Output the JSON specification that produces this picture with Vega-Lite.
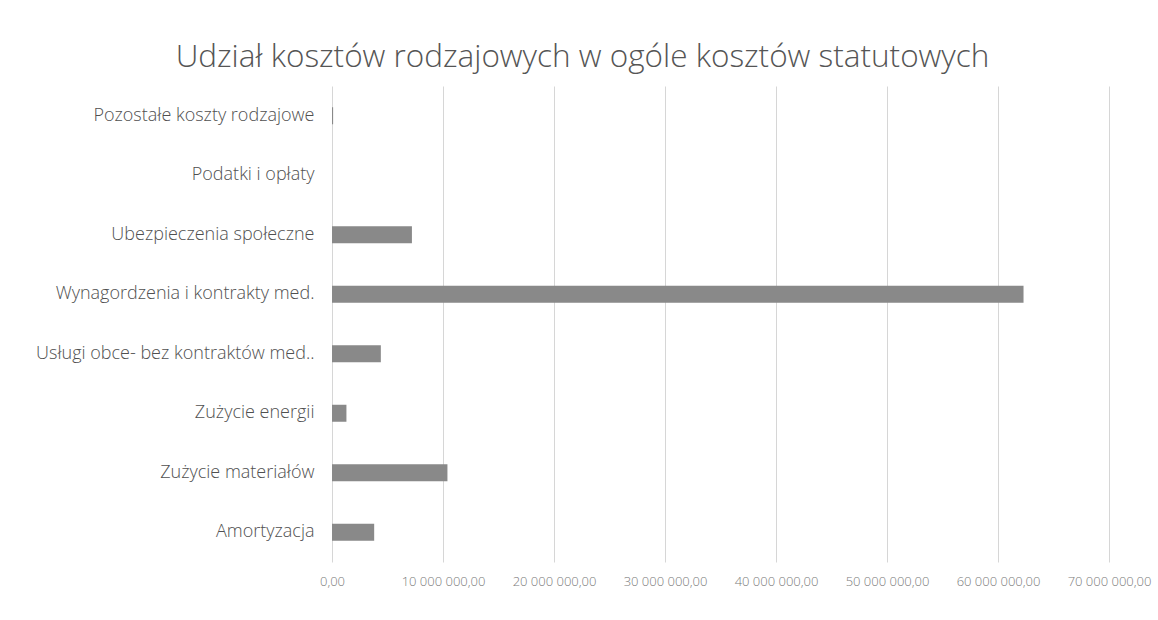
{
  "$schema": "https://vega.github.io/schema/vega-lite/v6.json",
  "width": 777,
  "height": 476,
  "autosize": {"type": "none"},
  "padding": {"left": 332, "top": 86, "right": 49, "bottom": 58},
  "background": "white",
  "title": {
    "text": "Udział kosztów rodzajowych w ogóle kosztów statutowych",
    "font": "Open Sans",
    "fontSize": 31.5,
    "fontWeight": 300,
    "color": "#555555",
    "anchor": "middle",
    "dx": -138,
    "offset": 13
  },
  "config": {
    "locale": {
      "number": {"decimal": ",", "thousands": " ", "grouping": [3], "currency": ["", ""]}
    },
    "view": {"stroke": null},
    "font": "Open Sans"
  },
  "data": {
    "values": [
      {"kategoria": "Pozostałe koszty rodzajowe", "wartosc": 100000},
      {"kategoria": "Podatki i opłaty", "wartosc": 0},
      {"kategoria": "Ubezpieczenia społeczne", "wartosc": 7200000},
      {"kategoria": "Wynagordzenia i kontrakty med.", "wartosc": 62300000},
      {"kategoria": "Usługi obce- bez kontraktów med..", "wartosc": 4400000},
      {"kategoria": "Zużycie energii", "wartosc": 1300000},
      {"kategoria": "Zużycie materiałów", "wartosc": 10400000},
      {"kategoria": "Amortyzacja", "wartosc": 3800000}
    ]
  },
  "mark": {"type": "bar", "color": "#898989", "size": 17},
  "encoding": {
    "y": {
      "field": "kategoria",
      "type": "nominal",
      "sort": null,
      "title": null,
      "axis": {
        "ticks": false,
        "domain": false,
        "labelFont": "Open Sans",
        "labelFontSize": 18,
        "labelFontWeight": 300,
        "labelColor": "#505050",
        "labelPadding": 18,
        "labelLimit": 400
      }
    },
    "x": {
      "field": "wartosc",
      "type": "quantitative",
      "title": null,
      "scale": {"domain": [0, 70000000], "nice": false},
      "axis": {
        "values": [0, 10000000, 20000000, 30000000, 40000000, 50000000, 60000000, 70000000],
        "format": ",.2f",
        "domain": false,
        "ticks": false,
        "labelOverlap": false,
        "labelBound": false,
        "labelFlush": false,
        "labelFont": "Open Sans",
        "labelFontSize": 13,
        "labelFontWeight": 300,
        "labelColor": "#7a7a7a",
        "labelPadding": 13,
        "grid": true,
        "gridColor": "#d6d6d6",
        "gridWidth": 1
      }
    }
  }
}
